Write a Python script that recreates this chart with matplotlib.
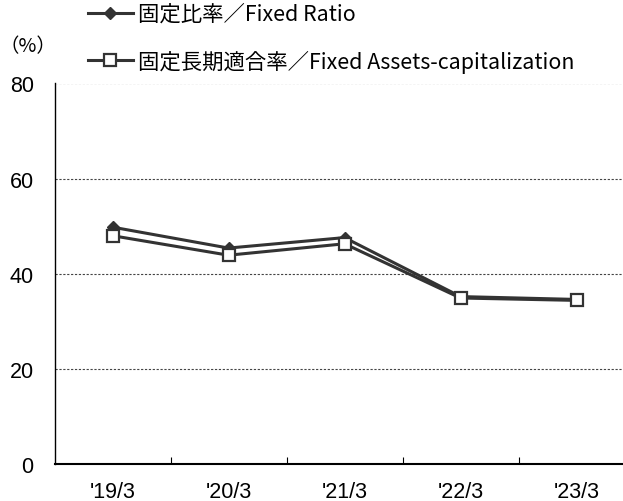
import matplotlib
matplotlib.use("Agg")
import matplotlib.pyplot as plt
import numpy as np
from matplotlib.lines import Line2D

# data
periods = ["'19/3", "'20/3", "'21/3", "'22/3", "'23/3"]
fixed_ratio = [49.8, 45.4, 47.6, 35.2, 34.6]
fixed_cap = [48.0, 43.9, 46.3, 34.9, 34.4]
y_ticks = [0, 20, 40, 60, 80]

label_ratio = "固定比率／Fixed Ratio"
label_cap = "固定長期適合率／Fixed Assets-capitalization"

plt.rcParams['font.family'] = ['Noto Sans CJK JP', 'DejaVu Sans']

DARK = '#333333'
W, H = 623, 502

fig = plt.figure(figsize=(W / 100, H / 100), dpi=100)
# axes box in pixels: left 54.5, top 84.5, bottom 465, five slots of ~116 px
ax = fig.add_axes([54.5 / W, (H - 465) / H, 580 / W, (465 - 84.5) / H])

x = np.arange(len(periods))
ax.plot(x, fixed_ratio, color=DARK, lw=2.2, marker='D', ms=6.5,
        mfc=DARK, mec=DARK, zorder=3)
ax.plot(x, fixed_cap, color=DARK, lw=2.2, marker='s', ms=8,
        mfc='white', mec=DARK, mew=1.6, zorder=4)

ax.set_xlim(-0.5, len(periods) - 0.5)
ax.set_ylim(0, 80)
ax.set_yticks(y_ticks)
ax.set_xticks(x)
ax.set_xticklabels(periods)
ax.set_xticks(x[:-1] + 0.5, minor=True)
ax.tick_params(axis='x', which='major', length=0, pad=12)
ax.tick_params(axis='x', which='minor', direction='in', length=5, width=0.8)
ax.tick_params(axis='y', length=0, pad=15)
for t in ax.get_xticklabels() + ax.get_yticklabels():
    t.set_fontsize(15.5)
    t.set_family(['Liberation Sans', 'DejaVu Sans'])

for v in y_ticks[1:]:
    ax.axhline(v, color='#444444', lw=0.8, ls=(0, (2, 1.5)), zorder=1)

ax.spines['top'].set_visible(False)
ax.spines['right'].set_visible(False)
ax.spines['left'].set_linewidth(1.0)
ax.spines['bottom'].set_linewidth(1.5)

# unit label
fig.text(28 / W, 1 - 47 / H, "（%）", fontsize=14, ha='center', va='center')

# legend
handles = [
    Line2D([], [], color=DARK, lw=2.2, marker='D', ms=6.5, mfc=DARK, mec=DARK),
    Line2D([], [], color=DARK, lw=2.2, marker='s', ms=8, mfc='white',
           mec=DARK, mew=1.6),
]
fig.legend(handles, [label_ratio, label_cap], loc='upper left',
           bbox_to_anchor=(88 / W, 1 - 4 / H), frameon=False,
           borderaxespad=0, borderpad=0,
           fontsize=15.4, handlelength=2.1, handletextpad=0.25,
           labelspacing=1.15)

fig.savefig('out.png', dpi=100)
